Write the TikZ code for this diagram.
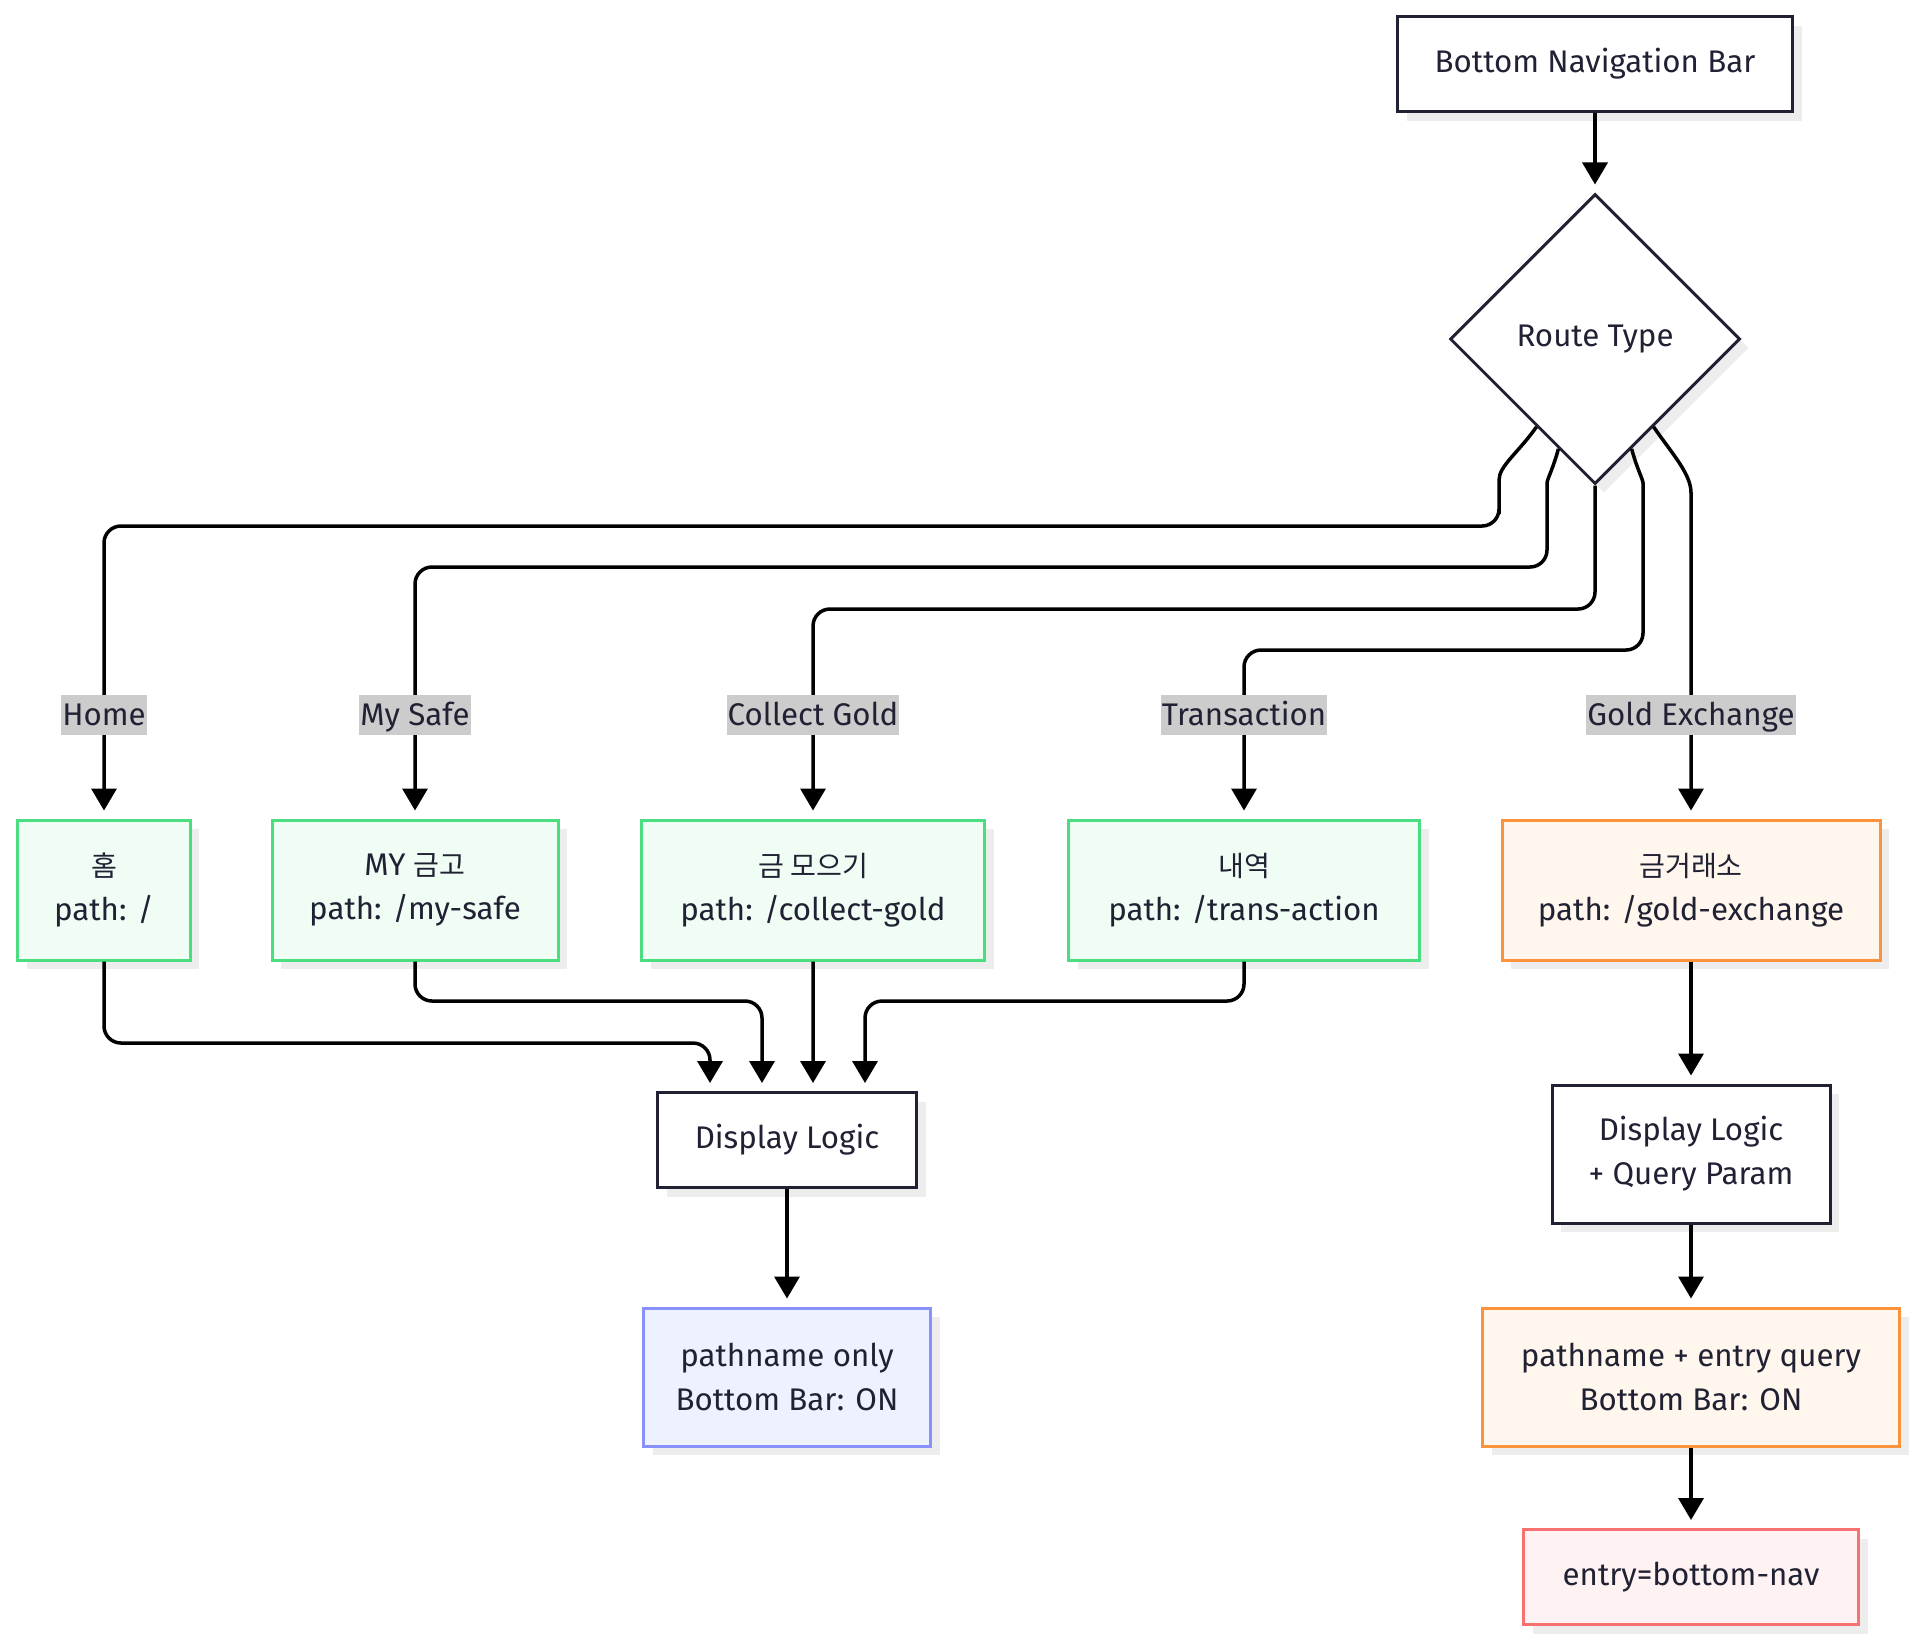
\documentclass[tikz,border=0pt]{standalone}
\usepackage{fontspec}
\setmainfont{Fira Sans}
\newfontfamily\kr[Scale=0.9]{Noto Sans CJK KR}
\usetikzlibrary{arrows.meta,shapes.geometric,shadows,calc}
\definecolor{ink}{RGB}{33,33,52}
\definecolor{mint}{RGB}{74,222,128}
\definecolor{mintbg}{RGB}{240,253,244}
\definecolor{amber}{RGB}{251,146,60}
\definecolor{amberbg}{RGB}{255,247,237}
\definecolor{coral}{RGB}{248,113,113}
\definecolor{coralbg}{RGB}{254,242,242}
\definecolor{iris}{RGB}{136,144,250}
\definecolor{irisbg}{RGB}{238,241,255}
\tikzset{
  plainbox/.style={draw=ink,line width=0.03cm,fill=white,text=ink,align=center,
    inner sep=0pt,minimum height=0.95cm,font=\fontsize{8.9}{12.5}\selectfont,
    drop shadow={shadow xshift=0.09cm,shadow yshift=-0.09cm,fill=black!7,opacity=1}},
  pagebox/.style={plainbox,draw=mint,fill=mintbg,minimum height=1.4cm},
  gxbox/.style={plainbox,draw=amber,fill=amberbg,minimum height=1.4cm},
  resultbox/.style={plainbox,draw=iris,fill=irisbg,minimum height=1.38cm},
  entrybox/.style={plainbox,draw=coral,fill=coralbg},
  decision/.style={plainbox,shape=diamond,minimum width=2.9cm,minimum height=2.9cm},
  edgelabel/.style={fill=black!20,text=ink,inner xsep=0.01cm,inner ysep=0pt,
    text height=0.3cm,text depth=0.1cm,font=\fontsize{8.9}{12.5}\selectfont},
  flow/.style={draw=black,line width=0.035cm,rounded corners=0.17cm,shorten >=0.08cm,
    -{Triangle[length=0.22cm,width=0.25cm]}}
}
\begin{document}
\begin{tikzpicture}
  \useasboundingbox (0,0) rectangle (19.2,-16.41);
  % top of the chart
  \node[plainbox,minimum width=3.95cm] (nav) at (15.95,-0.64) {Bottom Navigation Bar};
  \node[decision] (route) at (15.95,-3.39) {Route Type};
  % pages
  \node[pagebox,minimum width=1.72cm] (home) at (1.04,-8.9) {{\kr 홈}\\path: /};
  \node[pagebox,minimum width=2.86cm] (safe) at (4.15,-8.9) {MY {\kr 금고}\\path: /my-safe};
  \node[pagebox,minimum width=3.43cm] (collect) at (8.13,-8.9) {{\kr 금 모으기}\\path: /collect-gold};
  \node[pagebox,minimum width=3.51cm] (trans) at (12.44,-8.9) {{\kr 내역}\\path: /trans-action};
  \node[gxbox,minimum width=3.78cm] (gx) at (16.91,-8.9) {{\kr 금거래소}\\path: /gold-exchange};
  % display logic
  \node[plainbox,minimum width=2.59cm] (disp) at (7.87,-11.4) {Display Logic};
  \node[resultbox,minimum width=2.87cm] (plain) at (7.87,-13.77) {pathname only\\Bottom Bar: ON};
  \node[plainbox,minimum width=2.78cm,minimum height=1.38cm] (dispq) at (16.91,-11.54) {Display Logic\\+ Query Param};
  \node[gxbox,minimum width=4.17cm,minimum height=1.38cm] (withq) at (16.91,-13.77) {pathname + entry query\\Bottom Bar: ON};
  \node[entrybox,minimum width=3.35cm] (entry) at (16.91,-15.77) {entry=bottom-nav};

  \draw[flow] (nav) -- (route);
  \draw[flow] ($(route.west)!0.6!(route.south)$) to[out=-125,in=90] (14.99,-4.97)
    -- (14.99,-5.26) -- (1.04,-5.26) -- (home);
  \draw[flow] ($(route.west)!0.75!(route.south)$) to[out=-105,in=90] (15.47,-5.0)
    -- (15.47,-5.67) -- (4.15,-5.67) -- (safe);
  \draw[flow] (route.south) -- (15.95,-6.09) -- (8.13,-6.09) -- (collect);
  \draw[flow] ($(route.east)!0.75!(route.south)$) to[out=-75,in=90] (16.43,-5.0)
    -- (16.43,-6.5) -- (12.44,-6.5) -- (trans);
  \draw[flow] ($(route.east)!0.6!(route.south)$) to[out=-55,in=90] (16.91,-5.1) -- (gx);

  \node[edgelabel] (lhome) at (1.04,-7.15) {Home};
  \node[edgelabel] (lsafe) at (4.15,-7.15) {My Safe};
  \node[edgelabel] (lcollect) at (8.13,-7.15) {Collect Gold};
  \node[edgelabel] (ltrans) at (12.44,-7.15) {Transaction};
  \node[edgelabel] (lgx) at (16.91,-7.15) {Gold Exchange};

  \draw[flow] (home) -- (1.04,-10.43) -- (7.1,-10.43) -- ($(disp.north)+(-0.77,0)$);
  \draw[flow] (safe) -- (4.15,-10.01) -- (7.62,-10.01) -- ($(disp.north)+(-0.25,0)$);
  \draw[flow] (collect) -- ($(disp.north)+(0.26,0)$);
  \draw[flow] (trans) -- (12.44,-10.01) -- (8.65,-10.01) -- ($(disp.north)+(0.78,0)$);
  \draw[flow] (disp) -- (plain);
  \draw[flow] (gx) -- (dispq);
  \draw[flow] (dispq) -- (withq);
  \draw[flow] (withq) -- (entry);
\end{tikzpicture}
\end{document}
